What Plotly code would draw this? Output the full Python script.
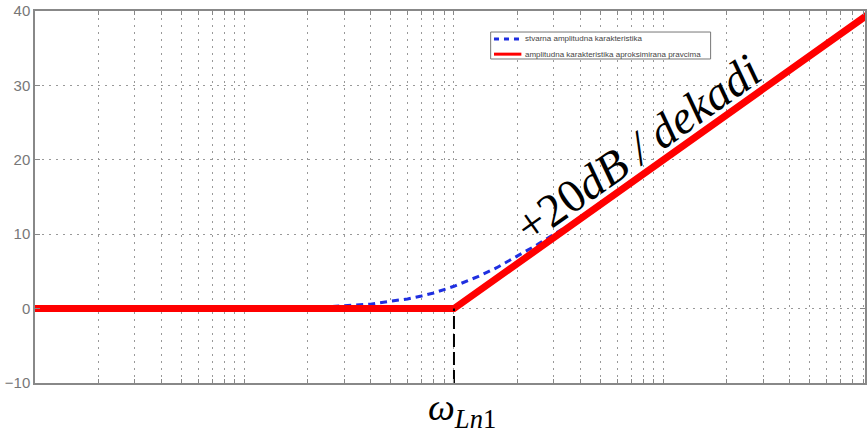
import plotly.graph_objects as go

# asimptotska (pravcima aproksimirana) karakteristika
w_approx = [1, 100, 10000]
mag_approx = [0, 0, 40]

# stvarna amplitudna karakteristika (ocitano sa slike)
w_exact = [23, 30, 40, 50, 60, 70, 80, 100, 130, 160, 200, 250, 300, 350, 420]
mag_exact = [0.2, 0.4, 0.6, 1.0, 1.3, 1.7, 2.1, 3.0, 4.3, 5.5, 7.0, 8.6, 10.0, 11.1, 12.6]

# lomna frekvencija
w_corner = 100
y_ticks = [-10, 0, 10, 20, 30, 40]
legend_names = ['stvarna amplitudna karakteristika',
                'amplitudna karakteristika aproksimirana pravcima']
blue = '#1f2fe0'
red = '#ff0000'

x_grid = [m * 10 ** d for d in range(0, 4) for m in range(1, 10)]

fig = go.Figure()
fig.add_trace(go.Scatter(x=w_exact, y=mag_exact, mode='lines', showlegend=False,
                         line=dict(color=blue, width=3, dash='7px,5px')))
fig.add_trace(go.Scatter(x=w_approx, y=mag_approx, mode='lines', showlegend=False,
                         line=dict(color=red, width=7)))
fig.add_trace(go.Scatter(x=[w_corner, w_corner], y=[y_ticks[0], mag_approx[1]], mode='lines',
                         showlegend=False, line=dict(color='black', width=2, dash='13px,5px')))

# legenda (rucno, da bude zbijena kao u matlabu)
fig.add_shape(type='rect', xref='paper', yref='paper', x0=0.549, x1=0.814, y0=0.871, y1=0.9435,
              line=dict(color='#777', width=1), fillcolor='white', layer='above')
fig.add_shape(type='line', xref='paper', yref='paper', x0=0.553, x1=0.586, y0=0.925, y1=0.925,
              line=dict(color=blue, width=3, dash='5px,5px'), layer='above')
fig.add_shape(type='line', xref='paper', yref='paper', x0=0.553, x1=0.586, y0=0.884, y1=0.884,
              line=dict(color=red, width=3), layer='above')
for name, yy in zip(legend_names, [0.925, 0.884]):
    fig.add_annotation(x=0.588, y=yy, xref='paper', yref='paper', xanchor='left',
                       yanchor='middle', text=name, showarrow=False,
                       font=dict(family='Arial', size=8, color='#444'))

fig.add_annotation(x=2.88, y=21.6, xref='x', yref='y', text='+20<i>dB / dekadi</i>',
                   textangle=-35.3, showarrow=False,
                   font=dict(family='Liberation Serif', size=47, color='black'))
fig.add_annotation(x=2.04, y=-0.073, xref='x', yref='paper', yanchor='middle',
                   text='<i>ω</i><sub><i>Ln</i>1</sub>', showarrow=False,
                   font=dict(family='Liberation Serif', size=38, color='black'))

fig.update_xaxes(type='log', range=[0, 3.962], tickvals=x_grid, showticklabels=False,
                 showgrid=True, gridcolor='#999', gridwidth=1, griddash='1.5px,5.5px',
                 ticks='inside', ticklen=4, tickcolor='#888', mirror='allticks',
                 showline=True, linecolor='#888', linewidth=1.5, zeroline=False)
fig.update_yaxes(range=[-10, 40], tickvals=y_ticks, showgrid=True, gridcolor='#999',
                 gridwidth=1, griddash='1.5px,5.5px', ticks='inside', ticklen=5, tickcolor='#888',
                 mirror='allticks', showline=True, linecolor='#888', linewidth=1.5,
                 zeroline=False, tickfont=dict(family='Arial', size=15, color='#777'))

fig.update_layout(
    width=867, height=441,
    margin=dict(l=35, r=0, t=11, b=58),
    plot_bgcolor='white', paper_bgcolor='white',
    showlegend=False,
)

fig.write_html("out.html", config={'displayModeBar': False},
               post_script="document.body.style.margin='0';")
